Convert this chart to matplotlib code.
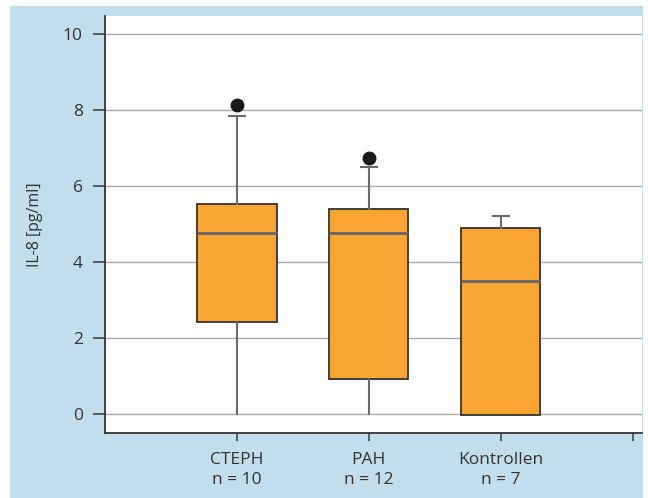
import matplotlib
matplotlib.use("Agg")
import matplotlib.pyplot as plt
from matplotlib.patches import Rectangle

plt.rcParams['font.family'] = ['Open Sans', 'DejaVu Sans']

categories = ["CTEPH\nn = 10", "PAH\nn = 12", "Kontrollen\nn = 7"]
medians = [4.77, 4.77, 3.50]
q1 = [2.43, 0.92, -0.03]
q3 = [5.53, 5.39, 4.90]
whis_lo = [0.0, 0.0, -0.03]
whis_hi = [7.85, 6.50, 5.22]
outliers = [[8.13], [6.73], []]
yticks = [0, 2, 4, 6, 8, 10]
ylabel = "IL-8 [pg/ml]"

W, H = 648, 498
fig = plt.figure(figsize=(W / 100, H / 100), dpi=100, facecolor='white')
blue = '#c2deed'
fig.patches.append(Rectangle((10 / W, 0), (643 - 10) / W, (498 - 6) / H,
                             transform=fig.transFigure, facecolor=blue,
                             edgecolor='none', zorder=-10))

ax = fig.add_axes([105 / W, (H - 433) / H, (642 - 105) / W, (433 - 16) / H])
ax.set_facecolor('white')

stats = []
for i in range(len(categories)):
    stats.append(dict(med=medians[i], q1=q1[i], q3=q3[i],
                      whislo=whis_lo[i], whishi=whis_hi[i],
                      fliers=outliers[i], label=categories[i]))

ax.bxp(stats, positions=[1, 2, 3], widths=0.6, patch_artist=True,
       showcaps=False, zorder=3,
       boxprops=dict(facecolor='#f9a533', edgecolor='#333333', linewidth=1.3),
       medianprops=dict(color='#666666', linewidth=2.0),
       whiskerprops=dict(color='#6a6a6a', linewidth=1.5),
       flierprops=dict(marker='o', markerfacecolor='#1a1a1a',
                       markeredgecolor='#1a1a1a', markersize=9))

# top caps only
for i in range(len(categories)):
    ax.plot([i + 1 - 0.07, i + 1 + 0.07], [whis_hi[i], whis_hi[i]],
            color='#6a6a6a', linewidth=1.5, zorder=3, solid_capstyle='butt')

ax.set_xlim(0, 4.07)
ax.set_ylim(-0.5, 10.47)
ax.set_yticks(yticks)
ax.set_yticklabels([str(t) for t in yticks])
ax.set_xticks([1, 2, 3, 4])
ax.set_xticklabels(categories + [""])

ax.yaxis.grid(True, color='#aaaaaa', linewidth=1.0, zorder=0)
ax.set_axisbelow(True)

for s in ['top', 'right']:
    ax.spines[s].set_visible(False)
for s in ['left', 'bottom']:
    ax.spines[s].set_color('#333333')
    ax.spines[s].set_linewidth(1.3)

ax.tick_params(axis='y', direction='out', length=9, width=1.2, color='#444444',
               labelsize=12.5, labelcolor='#333333', pad=7)
ax.tick_params(axis='x', direction='out', length=6, width=1.2, color='#444444',
               labelsize=12.5, labelcolor='#333333', pad=8)
for lbl in ax.get_xticklabels():
    lbl.set_linespacing(1.32)

ax.set_ylabel(ylabel, fontsize=11.5, color='#333333', labelpad=14)

fig.savefig('out.png', dpi=100, facecolor='white')
